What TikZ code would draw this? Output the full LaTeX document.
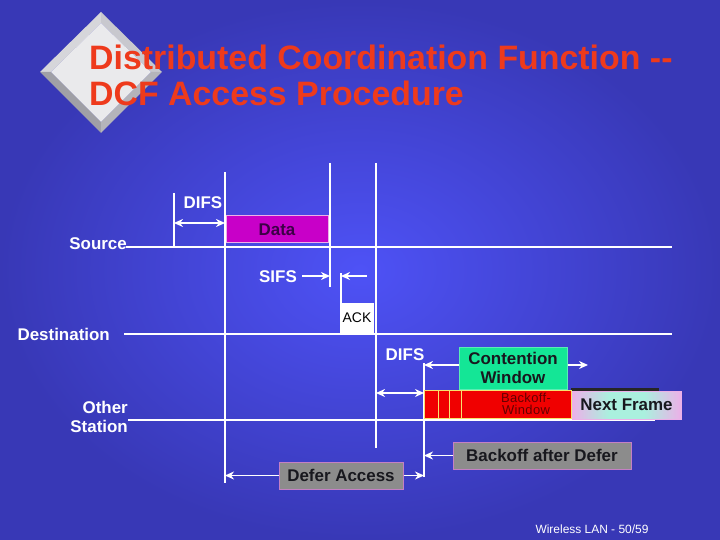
\documentclass[tikz,border=0pt]{standalone}
\usepackage{fontspec}
\setmainfont{Liberation Sans}
\usetikzlibrary{arrows.meta}
\usetikzlibrary{positioning}

\definecolor{bgin}{RGB}{78,82,246}
\definecolor{bgout}{RGB}{56,56,182}
\definecolor{titlered}{RGB}{238,58,28}
\definecolor{dmface}{RGB}{234,234,236}
\definecolor{dmlight}{RGB}{214,214,218}
\definecolor{dmtop}{RGB}{200,200,206}
\definecolor{dmdark}{RGB}{160,160,166}
\definecolor{dmmid}{RGB}{180,180,186}
\definecolor{datamag}{RGB}{200,0,200}
\definecolor{datatext}{RGB}{60,0,70}
\definecolor{cwgreen}{RGB}{20,230,150}
\definecolor{bored}{RGB}{240,0,0}
\definecolor{boyellow}{RGB}{246,226,110}
\definecolor{botext}{RGB}{100,0,0}
\definecolor{nfpink}{RGB}{236,176,232}
\definecolor{nfaqua}{RGB}{170,240,222}
\definecolor{greybox}{RGB}{140,140,140}
\definecolor{greyedge}{RGB}{196,128,196}
\definecolor{boxtext}{RGB}{24,24,30}

\pgfdeclarehorizontalshading{nfshade}{100bp}{color(0bp)=(nfpink); color(25bp)=(nfpink); color(42bp)=(nfaqua); color(58bp)=(nfaqua); color(75bp)=(nfpink); color(100bp)=(nfpink)}

\newcommand{\fsz}[2]{\fontsize{#1}{#2}\selectfont}

\begin{document}
\begin{tikzpicture}[x=1bp, y=-1bp,
    tline/.style={white, line width=2bp},
    dim/.style={white, line width=1.8bp, -{Stealth[length=9bp,width=8bp]}},
    dimboth/.style={white, line width=1.8bp, {Stealth[length=9bp,width=8bp]}-{Stealth[length=9bp,width=8bp]}},
    lbl/.style={text=white, inner sep=0, font=\bfseries\fsz{17}{19}},
    tbox/.style={inner sep=0, line width=1bp, text=boxtext, font=\bfseries\fsz{17}{19}}]
  \shade[inner color=bgin, outer color=bgout] (0,0) rectangle (720,540);
  \useasboundingbox (0,0) rectangle (720,540);

  \fill[dmlight] (40,72) -- (101,12) -- (101,23) -- (51,72) -- cycle;
  \fill[dmtop] (101,12) -- (162,72) -- (151,72) -- (101,23) -- cycle;
  \fill[dmdark] (40,72) -- (101,133) -- (101,122) -- (51,72) -- cycle;
  \fill[dmmid] (101,133) -- (162,72) -- (151,72) -- (101,122) -- cycle;
  \fill[dmface] (51,72) -- (101,23) -- (151,72) -- (101,122) -- cycle;

  \node[anchor=base west, inner sep=0, text=titlered, font=\bfseries\fsz{34}{36}] (t1) at (89,70) {Distributed Coordination Function -{}-};
  \node[anchor=base west, inner sep=0, text=titlered, font=\bfseries\fsz{34}{36}] (t2) at (89,106) {DCF Access Procedure};

  \node[lbl, anchor=east] (src) at (127,244) {Source};
  \node[lbl, anchor=east] (dst) at (110,334) {Destination};
  \node[lbl, anchor=east, align=right] (oth) at (128,416.5) {Other\\Station};
  \node[lbl] (difsa) at (203,203) {DIFS};
  \node[lbl] (sifs) at (278,277) {SIFS};
  \node[lbl] (difsb) at (405,355) {DIFS};

  \coordinate (s0) at (126,247);
  \coordinate (s1) at (672,247);
  \coordinate (d0) at (124,334);
  \coordinate (d1) at (672,334);
  \coordinate (o0) at (128,420);
  \coordinate (o1) at (655,420);
  \draw[tline] (s0) -- (s1);
  \draw[tline] (d0) -- (d1);
  \draw[tline] (o0) -- (o1);

  \coordinate (va) at (174,193);
  \coordinate (vb) at (225,172);
  \coordinate (vc) at (330,163);
  \coordinate (vd) at (376,163);
  \coordinate (ve) at (341,273);
  \coordinate (vf) at (424,363);
  \draw[tline] (va) -- (va |- s0);
  \draw[tline] (vb) -- ++(0,311) coordinate (vbe);
  \draw[tline] (vc) -- ++(0,124) coordinate (vce);
  \draw[tline] (vd) -- ++(0,285) coordinate (vde);
  \draw[tline] (ve) -- ++(0,30);
  \draw[tline] (vf) -- ++(0,114) coordinate (vfe);

  \coordinate (sifsa) at (302,276);
  \coordinate (sifsb) at (367,276);
  \coordinate (cwend) at (588,365);
  \draw[dimboth] (va |- 0,223) -- (vb |- 0,223);
  \draw[dim] (sifsa) -- (vc |- sifsa);
  \draw[dim] (sifsb) -- (ve |- sifsb);
  \draw[dimboth] (vd |- 0,393) -- (vf |- 0,393);

  \node[tbox, draw=nfpink, fill=datamag, text=datatext, minimum width=102bp, minimum height=27bp] (data) at (277,229.5) {Data};
  \node[inner sep=0, fill=white, text=black, font=\fsz{14}{15}, minimum width=34bp, minimum height=30bp] (ack) at (357,318) {ACK};

  \node[tbox, draw=cwgreen!70!white, fill=cwgreen, align=center, minimum width=108bp, minimum height=42bp] (cw) at (513,368) {Contention\\Window};
  \draw[dim] (cw.west |- cwend) -- (vf |- cwend);
  \draw[dim] (cw.east |- cwend) -- (cwend);

  \fill[black!85] (571,388) rectangle (659,418);
  \node[inner sep=0, draw=boyellow, line width=1bp, fill=bored, minimum width=147bp, minimum height=28bp] (bo) at (497.5,404) {};
  \foreach \xs in {438,449,461}
    \draw[boyellow, line width=1bp] (\xs,390.5) -- (\xs,417.5);
  \node[inner sep=0, text=botext, align=center, font=\fsz{13}{12}\addfontfeatures{LetterSpace=3}] (bow) at (526,404) {Backoff-\\Window};
  \node[tbox, draw=nfpink, shading=nfshade, minimum width=109bp, minimum height=28bp] (next) at (626.5,405) {Next Frame};

  \node[tbox, draw=greyedge, fill=greybox, minimum width=178bp, minimum height=27bp] (boff) at (542,455.5) {Backoff after Defer};
  \draw[dim] (boff.west) -- (vf |- boff.west);

  \node[tbox, draw=greyedge, fill=greybox, minimum width=124bp, minimum height=27bp] (defer) at (341,475.5) {Defer Access};
  \draw[dim] (defer.west) -- (vb |- defer.west);
  \draw[dim] (defer.east) -- (vf |- defer.east);

  \node[inner sep=0, text=white, font=\fsz{12}{14}] (foot) at (592,529) {Wireless LAN - 50/59};
\end{tikzpicture}
\end{document}
